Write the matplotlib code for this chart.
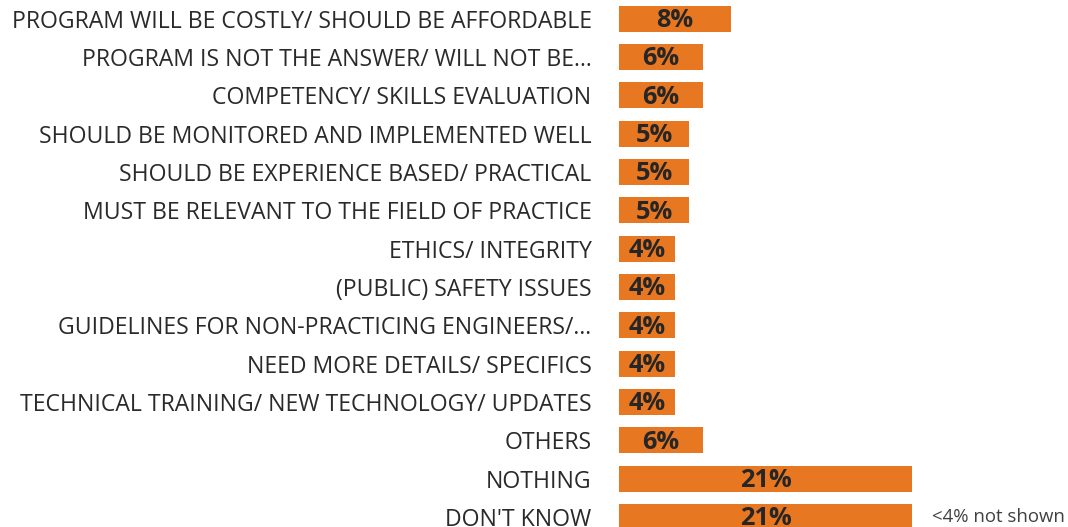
import matplotlib
matplotlib.use("Agg")
import matplotlib.pyplot as plt

categories = [
    "PROGRAM WILL BE COSTLY/ SHOULD BE AFFORDABLE",
    "PROGRAM IS NOT THE ANSWER/ WILL NOT BE…",
    "COMPETENCY/ SKILLS EVALUATION",
    "SHOULD BE MONITORED AND IMPLEMENTED WELL",
    "SHOULD BE EXPERIENCE BASED/ PRACTICAL",
    "MUST BE RELEVANT TO THE FIELD OF PRACTICE",
    "ETHICS/ INTEGRITY",
    "(PUBLIC) SAFETY ISSUES",
    "GUIDELINES FOR NON-PRACTICING ENGINEERS/…",
    "NEED MORE DETAILS/ SPECIFICS",
    "TECHNICAL TRAINING/ NEW TECHNOLOGY/ UPDATES",
    "OTHERS",
    "NOTHING",
    "DON'T KNOW",
]
values = [8, 6, 6, 5, 5, 5, 4, 4, 4, 4, 4, 6, 21, 21]
note = "<4% not shown"

W, H = 1068, 527
fig = plt.figure(figsize=(W / 100, H / 100), dpi=100)
left_px = 619.3
per_pct = 13.95
xmax = 32
ax = fig.add_axes([left_px / W, 0, xmax * per_pct / W, 1])

orange = "#E87722"
ypos = list(range(len(categories)))
ax.barh(ypos, values, height=0.68, color=orange, edgecolor="none")

for y, v in zip(ypos, values):
    ax.text(v / 2, y + 0.05, f"{v}%", ha="center", va="center", fontsize=18.3,
            fontweight="bold", color="#262626", family="Open Sans")

ax.set_xlim(0, xmax)
spacing = 38.33
ax.set_ylim(13 + (527 - 517) / spacing, -18.7 / spacing)
ax.set_yticks(ypos)
ax.set_yticklabels(categories, fontsize=16.6, color="#2a2a2a", family="Open Sans")
ax.tick_params(axis="y", length=0, pad=20)
ax.set_xticks([])
for s in ax.spines.values():
    s.set_visible(False)
ax.patch.set_alpha(0)

ax.text((932 - left_px) / per_pct, 13, note, ha="left", va="center",
        fontsize=13.4, color="#404040", family="Open Sans")

fig.savefig("out.png", dpi=100)
